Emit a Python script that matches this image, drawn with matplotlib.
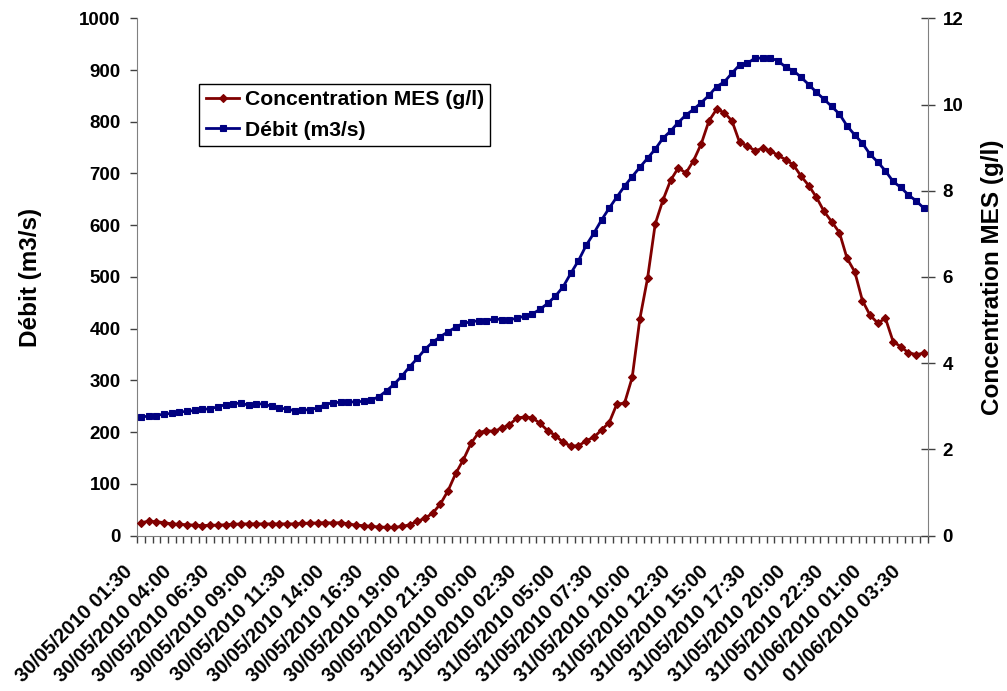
import matplotlib
matplotlib.use("Agg")
import matplotlib.pyplot as plt
import matplotlib.transforms as mtransforms
from matplotlib.ticker import FixedLocator, MultipleLocator

plt.rcParams['font.family'] = ['Liberation Sans', 'DejaVu Sans']
plt.rcParams['font.weight'] = 'bold'

# one label every 5 half-hour readings
tick_labels = ["30/05/2010 01:30", "30/05/2010 04:00", "30/05/2010 06:30",
               "30/05/2010 09:00", "30/05/2010 11:30", "30/05/2010 14:00",
               "30/05/2010 16:30", "30/05/2010 19:00", "30/05/2010 21:30",
               "31/05/2010 00:00", "31/05/2010 02:30", "31/05/2010 05:00",
               "31/05/2010 07:30", "31/05/2010 10:00", "31/05/2010 12:30",
               "31/05/2010 15:00", "31/05/2010 17:30", "31/05/2010 20:00",
               "31/05/2010 22:30", "01/06/2010 01:00", "01/06/2010 03:30"]

# Débit (m3/s), left axis
debit = [229, 231, 232, 235, 236, 239, 240, 242, 244, 245,
         249, 253, 255, 256, 252, 255, 254, 250, 246, 245,
         241, 243, 243, 247, 253, 257, 257.5, 258, 258.5, 259.5,
         262, 268.5, 280, 293, 308.5, 326.5, 342.5, 360, 374, 384.5,
         394, 402.5, 410.5, 413, 415.5, 415.5, 419, 417.5, 417.5, 420,
         424.5, 428.5, 437.5, 449, 463, 481, 507, 531.5, 561, 584.5,
         610, 633, 654.5, 675.5, 694, 712, 729.5, 747, 768, 782,
         798.5, 813, 824, 837, 851, 868, 877, 894, 910, 913,
         923, 923, 923, 918, 905.5, 899, 886, 872, 857, 843.5,
         829.5, 815, 792, 774.5, 758.5, 737, 722, 705, 684.5, 673,
         658.5, 647, 633]

# Concentration MES (g/l), right axis
mes = [0.30, 0.33, 0.32, 0.30, 0.27, 0.26, 0.25, 0.24, 0.23, 0.24,
       0.24, 0.25, 0.26, 0.27, 0.27, 0.27, 0.27, 0.27, 0.27, 0.27,
       0.27, 0.28, 0.29, 0.29, 0.30, 0.29, 0.30, 0.27, 0.24, 0.23,
       0.21, 0.20, 0.19, 0.19, 0.21, 0.25, 0.33, 0.40, 0.52, 0.73,
       1.04, 1.44, 1.76, 2.14, 2.39, 2.43, 2.42, 2.49, 2.57, 2.73,
       2.75, 2.73, 2.60, 2.43, 2.32, 2.16, 2.08, 2.08, 2.20, 2.28,
       2.45, 2.62, 3.05, 3.07, 3.67, 5.03, 5.97, 7.23, 7.78, 8.24,
       8.53, 8.41, 8.70, 9.09, 9.62, 9.89, 9.81, 9.62, 9.12, 9.04,
       8.93, 8.98, 8.93, 8.82, 8.72, 8.60, 8.34, 8.12, 7.85, 7.52,
       7.28, 7.03, 6.43, 6.12, 5.45, 5.11, 4.93, 5.04, 4.50, 4.38,
       4.24, 4.20, 4.23]

x = list(range(len(debit)))

fig = plt.figure(figsize=(10.07, 6.91), dpi=100)
ax = fig.add_axes([0.1363, 0.2250, 0.7849, 0.7485])
ax2 = ax.twinx()

l_deb, = ax.plot(x, debit, color='#000080', lw=2, marker='s', ms=4.6,
                 mfc='#000080', mec='#000080', mew=0.8, label='Débit (m3/s)')
l_mes, = ax2.plot(x, mes, color='#800000', lw=2, marker='D', ms=4.2,
                  mfc='#800000', mec='#800000', mew=0.8,
                  label='Concentration MES (g/l)')

ax.set_xlim(-0.5, len(x) - 0.5)
ax.set_ylim(0, 1000)
ax2.set_ylim(0, 12)
ax.yaxis.set_major_locator(MultipleLocator(100))
ax2.yaxis.set_major_locator(MultipleLocator(2))

# category axis: a tick between every reading, a label every 5 readings
ax.set_xticks(list(range(0, len(x), 5)))
ax.set_xticklabels(tick_labels, rotation=45, ha='right', va='center',
                   rotation_mode='anchor', fontsize=14.3)
ax.xaxis.set_minor_locator(FixedLocator([i - 0.5 for i in range(len(x) + 1)]))
ax.tick_params(axis='x', which='major', length=0, pad=24)
ax.tick_params(axis='x', which='minor', length=4.8, width=1, color='#404040')
shift = mtransforms.ScaledTranslation(-11 / 100, 0, fig.dpi_scale_trans)
for lab in ax.get_xticklabels():
    lab.set_transform(lab.get_transform() + shift)

ax.tick_params(axis='y', direction='out', length=5, width=1, color='#404040',
               labelsize=13.5, pad=7)
ax2.tick_params(axis='y', direction='inout', length=9.5, width=1,
                color='#404040', labelsize=13.5, pad=6)

for s in ['top', 'right']:
    ax.spines[s].set_visible(False)
for s in ['top', 'left', 'bottom']:
    ax2.spines[s].set_visible(False)
ax.spines['left'].set_color('#808080')
ax.spines['bottom'].set_color('#808080')
ax2.spines['right'].set_color('#808080')

fig.text(30 / 1007, 1 - 277 / 691, 'Débit (m3/s)', rotation=90,
         ha='center', va='center', fontsize=17.5, fontweight='bold')
fig.text(992 / 1007, 1 - 277 / 691, 'Concentration MES (g/l)', rotation=90,
         ha='center', va='center', fontsize=17.5, fontweight='bold')

leg = ax2.legend(handles=[l_mes, l_deb], loc='upper left',
                 bbox_to_anchor=(199.3 / 1007, 1 - 84 / 691),
                 bbox_transform=fig.transFigure, borderaxespad=0,
                 fontsize=15.2, frameon=True, fancybox=False, framealpha=1,
                 edgecolor='black', handlelength=1.6, handletextpad=0.25,
                 borderpad=0.3, labelspacing=0.53, numpoints=1)
leg.get_frame().set_linewidth(1)

fig.savefig('out.png', dpi=100)
